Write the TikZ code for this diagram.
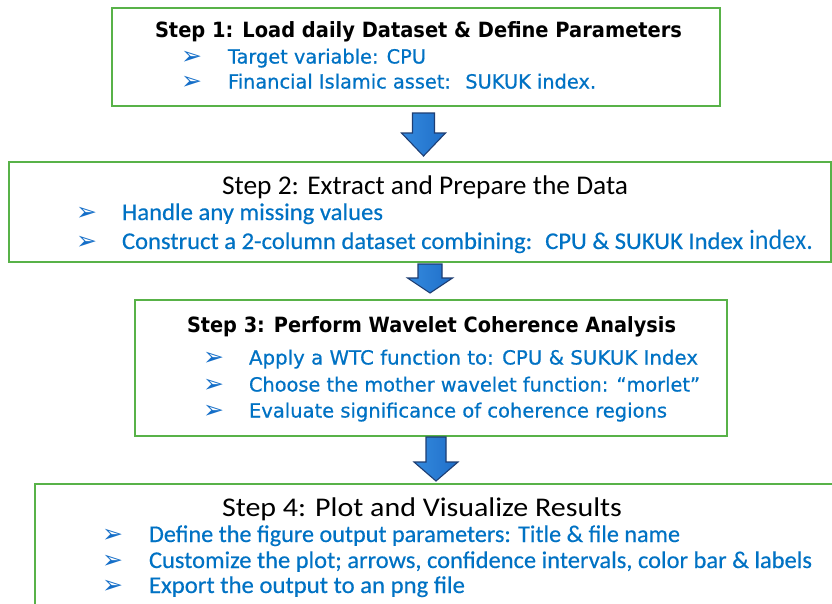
\documentclass[tikz,border=0pt]{standalone}
\usepackage{fontspec}
\usepackage{graphicx}
\setmainfont{DejaVu Sans}
\newfontfamily\wideface{DejaVu Sans}
\newfontfamily\wideitemface[FakeBold=0.6]{DejaVu Sans}
\newfontfamily\narrowface{Carlito}
\newfontfamily\narrowitemface[FakeBold=0.4]{Carlito}
\usetikzlibrary{calc}

\definecolor{framegreen}{RGB}{88,178,72}
\definecolor{itemblue}{RGB}{0,114,196}
\definecolor{bulletblue}{RGB}{20,110,200}
\definecolor{arrowfill}{RGB}{31,110,200}
\definecolor{arrowlight}{RGB}{52,138,222}
\definecolor{arrowedge}{RGB}{30,62,115}

% text squeezed or stretched horizontally to a given width (in pt)
\newcommand\fitw[2]{\resizebox{#1pt}{\height}{#2}}

% block arrow between two boxes:
% #1 upper box, #2 lower box, #3 centre x, #4 shaft half width,
% #5 head half width, #6 head length, #7 gap below #1, #8 gap above #2
\newcommand\flowarrow[8]{%
  \path let \p1=(#1.south), \p2=(#2.north) in
    [blockarrow]
    ({(#3-#4)*1pt},{\y1-#7pt})
    -- ({(#3-#4)*1pt},{\y2+#8pt+#6pt})
    -- ({(#3-#5)*1pt},{\y2+#8pt+#6pt})
    -- ({(#3)*1pt},{\y2+#8pt})
    -- ({(#3+#5)*1pt},{\y2+#8pt+#6pt})
    -- ({(#3+#4)*1pt},{\y2+#8pt+#6pt})
    -- ({(#3+#4)*1pt},{\y1-#7pt})
    -- cycle;}

\begin{document}
\begin{tikzpicture}[x=1pt,y=-1pt,
  stepbox/.style={draw=framegreen,line width=2pt,fill=white,rectangle,inner sep=0pt},
  blockarrow/.style={left color=arrowlight,right color=arrowfill,draw=arrowedge,line width=1.1pt,line join=miter},
  textline/.style={anchor=base west,inner sep=0pt,outer sep=0pt},
  widetitle/.style={textline,font=\wideface\bfseries\fontsize{21}{23}\selectfont,text=black},
  wideitem/.style={textline,font=\wideitemface\fontsize{19.5}{21}\selectfont,text=itemblue},
  narrowtitle/.style={textline,font=\narrowface\fontsize{27}{29}\selectfont,text=black},
  narrowitem/.style={textline,font=\narrowitemface\fontsize{24}{26}\selectfont,text=itemblue},
  bulletmark/.style={textline,font=\wideface\fontsize{25}{27}\selectfont,text=bulletblue}]

\useasboundingbox (0,0) rectangle (832,603);
\clip (0,0) rectangle (832,603);
\fill[white] (0,0) rectangle (832,603);

% the four step boxes
\node[stepbox,minimum width=608,minimum height=98] (s1) at (416,57) {};
\node[stepbox,minimum width=822,minimum height=100] (s2) at (420,212) {};
\node[stepbox,minimum width=592,minimum height=136] (s3) at (431,368) {};
\node[stepbox,minimum width=805,minimum height=136] (s4) at (437.5,552) {};

% arrows between the steps
\flowarrow{s1}{s2}{423.5}{11}{22}{23}{6}{5}
\flowarrow{s2}{s3}{430}{12}{22.5}{15}{1}{6}
\flowarrow{s3}{s4}{436}{10}{22}{19}{0}{2}

% Step 1
\node[widetitle] (t1) at (155,37.5) {\fitw{527}{Step 1: Load daily Dataset \& Define Parameters}};
\node[bulletmark] (m1a) at (181,64) {➢};
\node[bulletmark] (m1b) at (181,89) {➢};
\node[wideitem] (i1a) at (228,63.5) {\fitw{198}{Target variable: CPU}};
\node[wideitem] (i1b) at (228,88.5) {\fitw{368}{Financial Islamic asset:~ SUKUK index.}};

% Step 2
\node[narrowtitle] (t2) at (222,194) {\fitw{406}{Step 2: Extract and Prepare the Data}};
\node[bulletmark] (m2a) at (76,220) {➢};
\node[bulletmark] (m2b) at (76,249) {➢};
\node[narrowitem] (i2a) at (122,220) {\fitw{261}{Handle any missing values}};
\node[narrowitem] (i2b) at (122,249) {\fitw{621}{Construct a 2-column dataset combining:~ CPU \& SUKUK Index}};
\node[textline,font=\narrowface\fontsize{28}{30}\selectfont,text=itemblue] (i2c) at (749,249) {\fitw{64}{index.}};

% Step 3
\node[widetitle] (t3) at (187,332.5) {\fitw{489}{Step 3: Perform Wavelet Coherence Analysis}};
\node[bulletmark] (m3a) at (203,365) {➢};
\node[bulletmark] (m3b) at (203,392) {➢};
\node[bulletmark] (m3c) at (203,418) {➢};
\node[wideitem] (i3a) at (249,364.5) {\fitw{449}{Apply a WTC function to: CPU \& SUKUK Index}};
\node[wideitem] (i3b) at (249,391.5) {\fitw{451}{Choose the mother wavelet function: “morlet”}};
\node[wideitem] (i3c) at (249,417.5) {\fitw{418}{Evaluate significance of coherence regions}};

% Step 4
\node[narrowtitle] (t4) at (222,516) {\fitw{400}{Step 4: Plot and Visualize Results}};
\node[bulletmark] (m4a) at (102,542) {➢};
\node[bulletmark] (m4b) at (102,568) {➢};
\node[bulletmark] (m4c) at (102,593) {➢};
\node[narrowitem] (i4a) at (149,542) {\fitw{531}{Define the figure output parameters: Title \& file name}};
\node[narrowitem] (i4b) at (149,568) {\fitw{663}{Customize the plot; arrows, confidence intervals, color bar \& labels}};
\node[narrowitem] (i4c) at (149,593) {\fitw{316}{Export the output to an png file}};
\end{tikzpicture}
\end{document}
